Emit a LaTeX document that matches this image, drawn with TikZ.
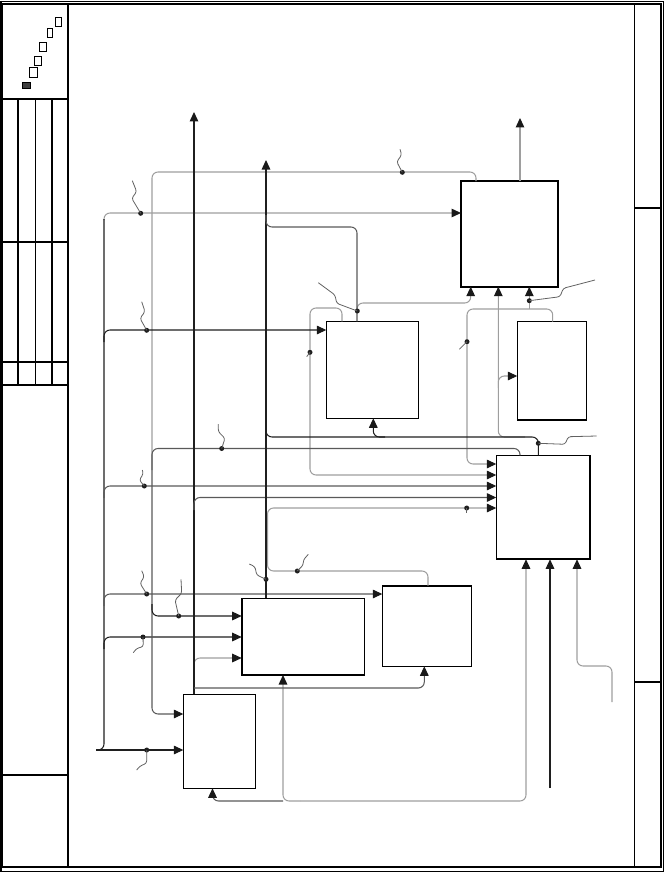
\documentclass[tikz,border=0pt]{standalone}
\usetikzlibrary{arrows.meta}
\begin{document}
\begin{tikzpicture}[x=1pt,y=-1pt,
  box/.style={draw=black,line width=1.2pt,fill=white,inner sep=0pt,outer sep=0pt},
  thk/.style={draw=black,line width=2.2pt},
  dk/.style={draw=black!88,line width=1.05pt},
  md/.style={draw=black!65,line width=1.05pt},
  lt/.style={draw=black!38,line width=1.05pt},
  arr/.style={-{Triangle[length=9.5pt,width=8.6pt,color=black!90]}},
  rc/.style={rounded corners=6pt},
  dotn/.style={circle,fill=black!88,inner sep=0pt,minimum size=5pt},
  sq/.style={draw=black!62,line width=0.8pt,rounded corners=2.5pt},
  frm/.style={draw=black,line width=1.2pt}]
\useasboundingbox (0,0) rectangle (665,872);
% ---------------- frame ----------------
\draw[line width=0.9pt] (0.6,1) rectangle (663.5,871.2);
\draw[frm] (2,4) rectangle (661,867);
\draw[line width=2.2pt] (1.1,1) -- (1.1,871);
\draw[frm] (68,4) -- (68,867);
\foreach \yy in {99,242,362,385,775} \draw[frm] (2,\yy) -- (68,\yy);
\draw[line width=2pt] (17.7,99) -- (17.7,385);
\draw[line width=1pt] (35.5,99) -- (35.5,385);
\draw[line width=2pt] (52,99) -- (52,385);
\draw[frm] (634.3,4) -- (634.3,867);
\draw[frm] (634.3,208) -- (661,208);
\draw[frm] (634.3,682) -- (661,682);
\draw[line width=0.9pt] (55.3,17.3) rectangle (61.3,26);
\draw[line width=0.9pt] (47.7,28.7) rectangle (52.3,37);
\draw[line width=0.9pt] (39.7,42.7) rectangle (46.3,51.3);
\draw[line width=0.9pt] (34.7,56.7) rectangle (41.3,65.3);
\draw[line width=0.9pt] (29.3,67.3) rectangle (37.3,77.3);
\filldraw[fill=black!75,draw=black,line width=0.8pt] (22.3,82.3) rectangle (30.7,88.3);
% ---------------- boxes ----------------
\node[box,minimum width=96.7pt,minimum height=105.7pt] (A) at (509.35,233.85) {};
\node[box,minimum width=92pt,minimum height=97pt] (B) at (372.3,369.8) {};
\node[box,minimum width=69.4pt,minimum height=98.5pt] (C) at (552,370.75) {};
\node[box,minimum width=94pt,minimum height=104pt] (D) at (543.3,507.3) {};
\node[box,minimum width=122.6pt,minimum height=76.7pt] (E) at (303,636.65) {};
\node[box,minimum width=89pt,minimum height=80.6pt] (F) at (426.8,626) {};
\node[box,minimum width=72.4pt,minimum height=94pt] (G) at (219.5,741.3) {};
\draw[thk] (A.south west) rectangle (A.north east);
\draw[thk] (D.north east) -- (D.south east) -- (D.south west);
\draw[thk] (E.north west) -- (E.south west) -- (E.south east);
\draw[thk] (F.north west) -- (F.north east);
\draw[thk] (C.south west) -- (C.south east);
% ---------------- free ends ----------------
\coordinate (in1) at (96,750);
\coordinate (outG) at (194,112);
\coordinate (outE) at (266,160);
\coordinate (outA) at (520,118);
\coordinate (mD) at (550,788);
\coordinate (cD) at (612,702);
% ---------------- light gray connectors ----------------
\draw[lt,rc] (A.north -| 476,0) -- (476,172) -- (152,172) -- (152,470);
\draw[lt,arr,rc] (104,220) -- (104,213) -- (A.west |- 0,213);
\draw[lt,arr] (A.north -| 520,0) -- (outA);
\draw[lt,arr,rc] (B.north -| 342,0) -- (342,308) -- (310,308) -- (310,475) -- (D.west |- 0,475);
\draw[lt,arr,rc=5pt] (357,311) -- (357,303) -- (470.7,303) -- (A.south -| 470.7,0);
\draw[lt,arr,rc] (C.north -| 552.7,0) -- (552.7,309) -- (467,309) -- (467,464) -- (D.west |- 0,464);
\draw[lt,arr] (529.3,309) -- (A.south -| 529.3,0);
\draw[lt,arr,rc] (525,437) -- (498.3,437) -- (A.south -| 498.3,0);
\draw[lt,arr,rc] (498.3,388) -- (498.3,376) -- (C.west |- 0,376);
\draw[lt,arr,rc=8pt] (F.north -| 428,0) -- (428,571) -- (267.5,571) -- (267.5,508) -- (D.west |- 0,508);
\draw[lt,arr,rc] (194,670) -- (194,658) -- (E.west |- 0,658);
\draw[lt,arr,rc] (300,801) -- (526,801) -- (D.south -| 526,0);
\draw[lt,arr,rc] (300,801) -- (283,801) -- (E.south -| 283,0);
\draw[lt,arr,rc=8pt] (cD) -- (612,666) -- (577,666) -- (D.south -| 577,0);
% ---------------- dark connectors ----------------
\draw[dk,rc] (in1) -- (104,750) -- (104,219);
\draw[dk,arr] (in1) -- (G.west |- 0,750);
\draw[dk,arr,rc] (104,342) -- (104,330) -- (B.west |- 0,330);
\draw[md,arr,rc] (104,498) -- (104,486) -- (D.west |- 0,486);
\draw[md,arr,rc] (104,606) -- (104,594) -- (F.west |- 0,594);
\draw[dk,arr,rc] (104,649) -- (104,637) -- (E.west |- 0,637);
\draw[md,arr,rc] (D.north -| 520,0) -- (520,448.5) -- (152,448.5) -- (152,714) -- (G.west |- 0,714);
\draw[dk,arr,rc] (152,604) -- (152,616) -- (E.west |- 0,616);
\draw[dk,arr] (G.north -| 194,0) -- (outG);
\draw[md,arr,rc] (194,510) -- (194,497.5) -- (D.west |- 0,497.5);
\draw[md,arr,rc] (194,688) -- (424.3,688) -- (F.south -| 424.3,0);
\draw[dk,arr] (E.north -| 266,0) -- (outE);
\draw[md,rc] (B.north -| 357,0) -- (357,227) -- (266,227) -- (266,215);
\draw[dk,rc] (D.north -| 538.3,0) -- (538.3,437) -- (266,437) -- (266,425);
\draw[dk,arr,rc] (385,437) -- (373.3,437) -- (B.south -| 373.3,0);
\draw[md,arr,rc=3pt] (283,801) -- (212.5,801) -- (G.south -| 212.5,0);
\draw[dk,arr] (mD) -- (D.south -| 550,0);
% ---------------- dots and label squiggles ----------------
\node[dotn] (d1) at (140.7,213.3) {};
\draw[sq] (d1.center) -- (131.7,198.3) -- (136.7,191.7) -- (132.3,180.7);
\node[dotn] (d2) at (146.7,330.3) {};
\draw[sq] (d2.center) -- (140,318.3) -- (145,311.7) -- (141.7,301.7);
\node[dotn] (d3) at (357.3,311) {};
\draw[sq] (d3.center) -- (336.7,303.3) -- (335,295) -- (318.3,282.7);
\node[dotn] (d4) at (402.3,172.3) {};
\draw[sq] (d4.center) -- (396.7,161.7) -- (401.7,155) -- (400,149.3);
\node[dotn] (d5) at (529.3,300.7) {};
\draw[sq] (d5.center) -- (560,296.7) -- (563.3,288.3) -- (595,280);
\node[dotn] (d6) at (467,341.7) {};
\draw[sq] (d6.center) -- (459.3,349.3);
\node[dotn] (d7) at (310,352.3) {};
\draw[sq] (d7.center) -- (306.7,356.7);
\node[dotn] (d8) at (538.3,443.3) {};
\draw[sq] (d8.center) -- (565,444.3) -- (568.3,436.7) -- (596.7,436);
\node[dotn] (d9) at (221.7,448.5) {};
\draw[sq] (d9.center) -- (225,438.3) -- (218.3,431.7) -- (218.3,424);
\node[dotn] (d10) at (144.3,486) {};
\draw[sq] (d10.center) -- (139.3,480) -- (143.3,474) -- (142.3,470);
\node[dotn] (d11) at (146.7,594) {};
\draw[sq] (d11.center) -- (140,583.3) -- (144.3,576.7) -- (141.7,570.7);
\node[dotn] (d12) at (178.7,616) {};
\draw[sq] (d12.center) -- (175,600) -- (181.7,593.3) -- (181,579.3);
\node[dotn] (d13) at (266,579.3) {};
\draw[sq] (d13.center) -- (256.7,575) -- (255,566.7) -- (249.3,564);
\node[dotn] (d14) at (297.3,571) {};
\draw[sq] (d14.center) -- (303.3,565) -- (303.3,560) -- (308.3,554.3);
\node[dotn] (d15) at (143,637) {};
\draw[sq] (d15.center) -- (143.3,646.7) -- (136.7,648.3) -- (133.3,652.7);
\node[dotn] (d16) at (146.7,750) {};
\draw[sq] (d16.center) -- (146.7,763.3) -- (140,766) -- (136.7,770);
\node[dotn] (d17) at (466.7,508) {};
\draw[sq] (d17.center) -- (466.7,512.5);
\end{tikzpicture}
\end{document}
